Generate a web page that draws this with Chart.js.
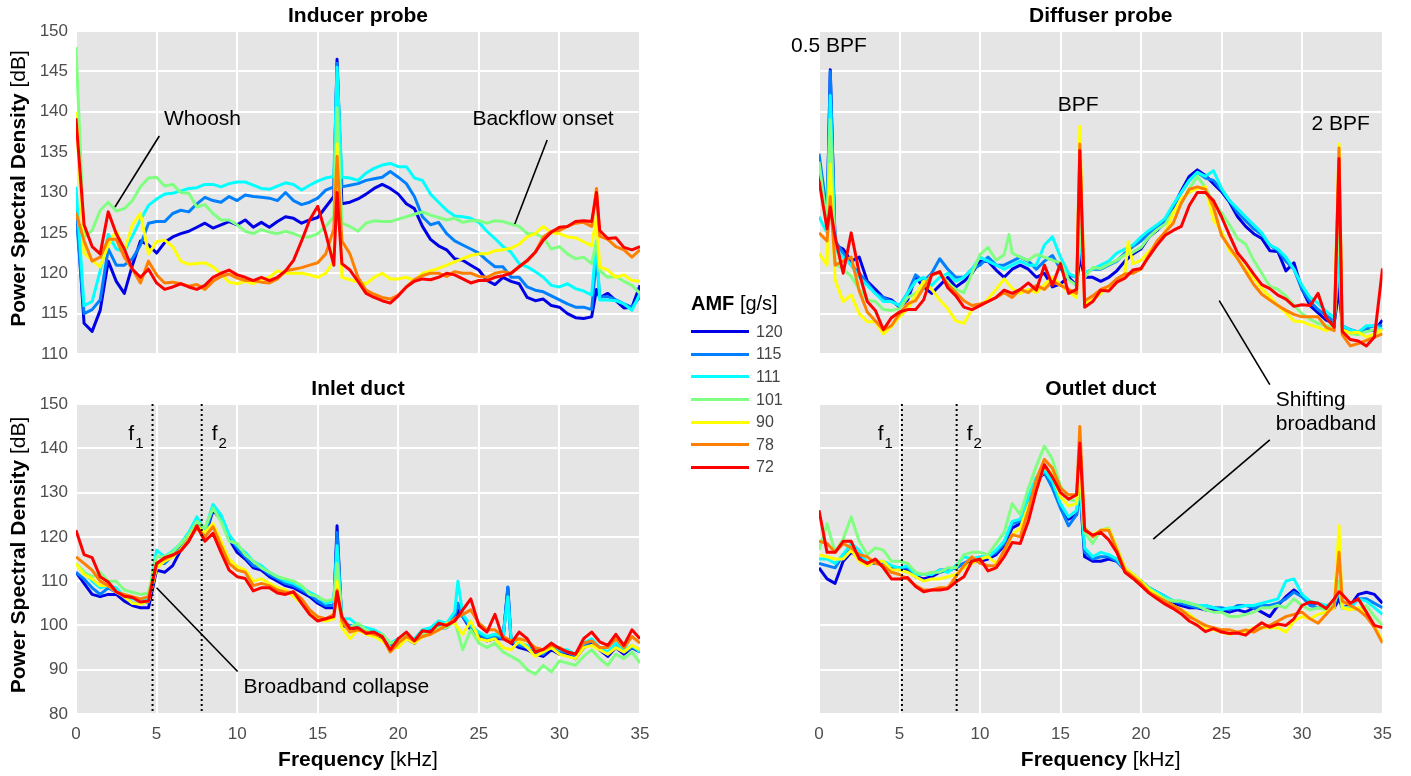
<!DOCTYPE html>
<html>
<head>
<meta charset="utf-8">
<script src="https://cdn.jsdelivr.net/npm/chart.js@4.4.0/dist/chart.umd.min.js"></script>
<style>
  body { margin: 0; background: #fff; width: 1411px; height: 776px; overflow: hidden; position: relative;
         font-family: "Liberation Sans", Arial, Helvetica, sans-serif; }
  canvas { position: absolute; }
  #legend { position: absolute; left: 0; top: 0; }
  .lg-title { position: absolute; left: 691px; top: 290px; font-size: 20px; color: #000; white-space: nowrap; line-height: 26px; }
  .lg-line { position: absolute; left: 691px; width: 58px; height: 3px; }
  .lg-text { position: absolute; left: 756px; font-size: 16px; color: #444; line-height: 20px; }
</style>
</head>
<body>
<canvas id="inducer" width="660" height="375" style="left:0;top:0"></canvas>
<canvas id="diffuser" width="651" height="400" style="left:760px;top:0"></canvas>
<canvas id="inlet" width="660" height="406" style="left:0;top:370px"></canvas>
<canvas id="outlet" width="651" height="406" style="left:760px;top:370px"></canvas>
<div id="legend"></div>
<script>
const FONT = '"Liberation Sans", Arial, Helvetica, sans-serif';

// frequency grid [kHz]
const freq = [
  0, 0.5, 1, 1.5, 2, 2.5, 3, 3.5, 4, 4.5,
  5, 5.5, 6, 6.5, 7, 7.5, 8, 8.5, 9, 9.5,
  10, 10.5, 11, 11.5, 12, 12.5, 13, 13.5, 14, 14.5,
  15, 15.5, 16, 16.5, 17, 17.5, 18, 18.5, 19, 19.5,
  20, 20.5, 21, 21.5, 22, 22.5, 23, 23.5, 24, 24.5,
  25, 25.5, 26, 26.5, 27, 27.5, 28, 28.5, 29, 29.5,
  30, 30.5, 31, 31.5, 32, 32.5, 33, 33.5, 34, 34.5,
  35
];

const amf = ['120', '115', '111', '101', '90', '78', '72'];
const colors = ['#0000e6', '#0080ff', '#00ffff', '#80ff80', '#ffff00', '#ff8000', '#ff0000'];

// ---- Inducer probe ----
const inducer120 = [
  129, 113.8, 112.8, 115.4, 121.5, 119, 117.5, 121, 124, 123.5,
  122.5, 123.8, 124.5, 124.9, 125.2, 125.7, 126.2, 125.6, 126, 126.4,
  126, 126.6, 125.7, 126.3, 125.7, 126.4, 127, 126.8, 126.2, 126.6,
  126.9, 128.2, 129.5, 128.6, 128.8, 129.2, 129.8, 130.5, 131, 130.5,
  129.8, 128.6, 128, 125.8, 124.2, 123.4, 122.9, 121.8, 121.6, 121,
  120.4, 119.1, 118.6, 119.5, 119, 118.7, 117, 116.6, 116.8, 116,
  115.8, 115, 114.5, 114.4, 114.6, 117, 117.5, 116.6, 115.7, 115.8,
  118.5
];
const inducer115 = [
  127.5, 115, 115.5, 116.7, 123, 121, 121, 121.8, 123.5, 126.2,
  126.4, 126.4, 127.4, 127.8, 127.6, 128.6, 129.4, 129, 128.8, 129.5,
  129, 129.7, 129.5, 129.4, 129.3, 129, 130, 129, 128.5, 128.8,
  129.3, 130.3, 130.7, 130.7, 130.9, 131.1, 131.5, 131.7, 131.9, 132.6,
  131.9, 131.1, 129.5, 127, 126, 126.3, 124.9, 124, 123.5, 123,
  122.5, 121.6, 120.8, 120.8, 119.5, 119.5, 118.3, 117.9, 117.7, 117.2,
  116.7, 116.2, 115.8, 115.8, 115.5, 117.1, 117.1, 116.7, 116.2, 115.8,
  117.1
];
const inducer111 = [
  130.7, 116, 116.5, 120.3, 124.8, 123, 122.7, 124.6, 126.6, 128.4,
  129.2, 129.8, 129.9, 130.2, 130.5, 130.6, 131, 131, 130.7, 131.1,
  131.3, 131.3, 130.9, 130.5, 130.4, 130.8, 131.2, 131, 130.3, 130.9,
  131.4, 131.8, 132, 131.9, 131.8, 131.5, 132.4, 133, 133.4, 133.6,
  133.2, 133.2, 131.8, 131.5, 129.8, 128.8, 127.8, 127.1, 127, 126.8,
  126.3, 125.2, 124.3, 123.3, 122.6, 121.2, 120.8, 120.2, 119.5, 118.5,
  118.3, 118.7, 118.1, 117.8, 117.3, 116.7, 116.7, 116.6, 116.2, 115.4,
  117.5
];
const inducer101 = [
  148, 124.5, 125.3, 127.8, 128.8, 127.7, 128, 129, 130.7, 131.8,
  131.9, 130.8, 131, 130, 129.9, 128.2, 128.5, 127.4, 126.6, 126.6,
  126, 125.2, 124.9, 125.4, 125.1, 124.9, 125.2, 124.9, 124.5, 124.5,
  124.9, 125.8, 127, 126.2, 125.8, 125.2, 126.2, 126.5, 126.4, 126.4,
  126.7, 127, 127.3, 127.6, 127.2, 126.9, 126.6, 126.8, 126.3, 126.5,
  126.5, 126.2, 126.5, 126.4, 126.1, 125.8, 124.9, 124.9, 124.4, 123,
  123.3, 122.4, 121.8, 122, 121.2, 120.3, 119.5, 119.6, 119, 118.5,
  117.5
];
const inducer90 = [
  140, 122.5, 121.6, 120.8, 123.5, 125.3, 122.8, 126, 127.4, 122.4,
  123.9, 124.1, 123.3, 121.5, 121.1, 121.2, 121.3, 120.8, 119.9, 118.9,
  118.7, 119, 118.7, 119.2, 119.5, 120.3, 120, 120, 120, 119.8,
  119.5, 120, 121.5, 119.5, 119.2, 118.9, 118.7, 119.5, 120, 119.3,
  119.3, 119.5, 119.1, 120, 120.3, 120.6, 121, 121.4, 121.8, 122.2,
  122.4, 122.4, 122.8, 122.9, 123.1, 123.6, 124.5, 124.9, 125.8, 125,
  124.9, 124.5, 124.4, 123.9, 123.4, 120.8, 120.4, 119.5, 119.8, 119.1,
  119
];
const inducer78 = [
  127.5, 124, 121.5, 122, 124.2, 124.2, 122, 120.5, 118.8, 121.5,
  119.8, 118.8, 118.9, 118.7, 118.4, 118.6, 118, 119, 119.6, 119.9,
  119.4, 119.1, 119.1, 118.9, 118.8, 119.3, 120.3, 120.5, 120.7, 121,
  121.3, 122.4, 125.5, 124, 122.4, 119.5, 117.9, 117.4, 117, 116.8,
  117.3, 118.3, 119.2, 119.7, 120, 120, 119.6, 120.2, 120, 120,
  119.6, 119.5, 120, 120.2, 120, 120.8, 121.5, 122.6, 124.5, 125.2,
  125.3, 125.8, 126.2, 126.3, 125.8, 124.6, 124.2, 123.3, 122.9, 122,
  122.9
];
const inducer72 = [
  139.2, 126, 123.3, 122.4, 127.6, 124.9, 123, 120.5, 119.5, 120.5,
  118.8, 118, 118.3, 118.7, 118.3, 118, 118.5, 119.5, 120, 120.4,
  119.8, 119.5, 119.1, 119.5, 119.1, 119.5, 120.3, 121.6, 124, 126.6,
  128.3, 124.9, 121, 121.2, 120.4, 119, 117.5, 117, 116.6, 116.3,
  117.2, 118.3, 119, 119.3, 119.2, 119.5, 120, 119.8, 119.3, 118.8,
  119.1, 119.1, 119.5, 119.7, 120, 120.8, 121.6, 122.6, 124.1, 125.1,
  125.7, 125.8, 126.4, 126.5, 126.4, 125.3, 124.3, 124.4, 123.2, 122.9,
  123.3
];
const inducerToneFreq = [16.2, 32.3];
const inducerTones = [
  [146.5, 146, 145.5, 140.5, 136, 134.5, 130],
  [118, 122, 124, 124, 127, 130.5, 130]
];

// ---- Diffuser probe ----
const diffuser120 = [
  132.4, 126.5, 123.5, 123, 121.5, 122, 119, 118, 117, 116.7,
  115.8, 116.7, 119.5, 118.3, 117.5, 118.5, 119.5, 118.3, 119, 120,
  121.5, 121.5, 120.4, 119.5, 120.5, 121, 120.5, 119.5, 120, 118.3,
  118.7, 119.5, 118.5, 119.5, 119.5, 119, 119.5, 120.3, 121.5, 122.4,
  123, 124.5, 125.3, 126.3, 128.2, 130.2, 132, 132.8, 132.1, 131.1,
  130.1, 128.8, 127, 125.8, 124.9, 124.3, 122.8, 122.7, 120.3, 121.3,
  118, 116, 115.1, 114.2, 113.8, 113.5, 113, 112.7, 112.9, 112.9,
  114.2
];
const diffuser115 = [
  134.8, 127.5, 124, 122.5, 121, 120, 118.8, 117.5, 117, 116.5,
  116, 117.5, 119.8, 119, 120, 121.8, 120.5, 119.5, 119.5, 120.5,
  121, 122, 121, 121, 121.5, 122, 121.5, 120.5, 121.5, 122.2,
  120.5, 119.8, 119.5, 120, 120.5, 120.5, 121, 121.5, 122.5, 123.3,
  124, 125, 125.7, 126.7, 128.3, 130, 131.5, 132.5, 131.8, 131.5,
  130.3, 129, 127.5, 126.5, 125.5, 124.8, 123.5, 122.8, 121.5, 120.5,
  118, 116.5, 115.5, 114.8, 114, 113.3, 112.8, 112.7, 113.2, 113.5,
  113.5
];
const diffuser111 = [
  127, 125, 123, 122, 121, 119.5, 118.5, 117.5, 116.5, 116.5,
  116, 117.5, 119, 119.5, 118.5, 119.5, 120, 119, 119.5, 120.5,
  122, 121.5, 121, 120.5, 121, 121.5, 121, 121, 123.5, 124.5,
  122, 120, 119.5, 120, 120.5, 121, 121.5, 122.5, 123, 123.5,
  124.5, 125.3, 126, 126.8, 128.5, 130, 131.5, 132.5, 132, 132.7,
  130.5, 129, 128, 127, 126, 125, 123.5, 123, 122, 120.5,
  118.5, 117, 116.3, 115.3, 114.5, 113.5, 113, 112.7, 113.5, 113.5,
  113
];
const diffuser101 = [
  133.8, 126, 121.2, 120.5, 119.6, 118, 116.7, 116.5, 115.5, 115.4,
  115.6, 117, 117.5, 118.5, 119.8, 120.2, 118.8, 118, 117.6, 120,
  122.3, 123.2, 121.6, 122.3, 122.5, 122, 121.6, 122.3, 122, 121.6,
  121.3, 119.2, 118.5, 119.5, 120.7, 120.6, 121.1, 121.6, 122.3, 122.6,
  123.2, 124.5, 125.4, 126.1, 127.6, 128.6, 130.5, 132, 130.6, 128.8,
  127.5, 126, 124.3, 123.6, 121.6, 120, 118.4, 118, 117.2, 116,
  115, 114.3, 113.8, 113.5, 113.4, 113, 112.5, 112.4, 112.8, 113,
  113
];
const diffuser90 = [
  122.5, 121, 119.2, 116.5, 117.3, 115, 114, 114, 112.5, 113.4,
  114.6, 115.6, 117.3, 119, 118, 116.7, 115.6, 114.1, 113.8, 115.5,
  116, 116.8, 118, 119.3, 118.1, 117.5, 118, 117.6, 118.6, 119.5,
  118.6, 117.7, 117, 116.2, 116.7, 117.5, 118.4, 119.1, 120, 121.2,
  121.6, 122.7, 123.7, 125, 127.4, 129.2, 130, 130.5, 130.7, 126.6,
  125.2, 122.8, 121.8, 120.5, 119.4, 118.1, 117.1, 116, 115.1, 114.1,
  114, 113.6, 113.3, 112.9, 113.3, 113, 112.6, 112.7, 112.1, 112.5,
  113
];
const diffuser78 = [
  125, 124, 121, 121.5, 122, 117.8, 115.2, 114.1, 113, 113.5,
  115, 116.2, 116.6, 118.2, 119.8, 120.1, 118.6, 117.6, 116.6, 116,
  116.2, 116.5, 117, 117.6, 117, 118, 117.6, 118.5, 118, 119,
  118.5, 118, 117.5, 116.6, 117.2, 118, 118.4, 119.3, 119.9, 120,
  120.5, 122.3, 124, 125.1, 126.2, 128.7, 130.4, 130.7, 130.4, 128.2,
  124.7, 123.2, 121.8, 120.2, 118.6, 117.4, 116.7, 116, 115.4, 114.9,
  114.6, 114.6, 114.6, 113.3, 112.9, 112.4, 111, 111.3, 111.7, 112.1,
  112.5
];
const diffuser72 = [
  131.5, 125.5, 124.5, 120, 125, 120, 116.5, 115.4, 113, 114.5,
  115.2, 115.5, 115.5, 116.7, 119.8, 120.2, 118.2, 117.2, 115.8, 115.5,
  116, 116.5, 117, 117.9, 117.5, 118, 118.8, 117.9, 121, 118.5,
  121.2, 117.5, 118, 115.8, 116.5, 117.9, 117.8, 118.9, 119.4, 120.4,
  120.6, 122.1, 123.5, 124.7, 125.3, 125.8, 128.4, 130, 130, 129,
  127, 124.7, 122.5, 121.3, 119.9, 118.6, 118.1, 117.3, 116.8, 115.9,
  116.1, 116, 117.5, 114.5, 113.3, 112.8, 111.8, 111.6, 111, 112.1,
  120.6
];
const diffuserToneFreq = [0.7, 11.8, 16.2, 19.2, 32.3];
const diffuserTones = [
  [145.2, 145, 142, 139, 133.5, 129.5, 128.2],
  [null, null, null, 124.8, null, null, null],
  [122, 123, 124, 126, 138.2, 136, 135.2],
  [null, null, null, null, 123.9, null, null],
  [118, 121, 122, 128, 136, 135.5, 134.2]
];

// ---- Inlet duct ----
const inlet120 = [
  112, 109.5, 107, 106.5, 107, 107, 105.5, 104.5, 104, 104,
  112.5, 112, 113.5, 117, 120, 123, 120, 126, 124, 119.5,
  116.5, 115, 113, 112.5, 111, 110, 109, 108.5, 107.5, 106.5,
  105, 104, 104, 100, 99.5, 99, 98.5, 98, 97, 95.5,
  96.5, 97, 96, 98, 98.5, 99.5, 99.5, 101.5, 102, 99,
  97.5, 96.5, 97, 97, 96, 95, 94.5, 93.5, 93, 94.5,
  93.5, 93.5, 92.5, 95, 96, 94.5, 93, 95, 93.5, 95,
  94
];
const inlet115 = [
  112, 110.5, 108.5, 107, 108.5, 107.5, 106.5, 105, 105, 105.3,
  114, 114, 115.8, 118, 120.5, 124, 120.5, 126.5, 124.5, 120,
  117.5, 115.5, 113.5, 113, 111.5, 110.5, 109.5, 109, 108, 107,
  105.5, 104.5, 104.5, 100.5, 100, 99.5, 99, 98.5, 97.5, 95.5,
  97, 97, 96.5, 98.5, 99, 100, 100, 102, 102, 99.5,
  98, 97, 97.5, 97, 96.5, 95.5, 95, 94, 93.5, 95.5,
  94, 94, 93, 95.5, 96.5, 94.5, 93.5, 95.5, 94, 95,
  94.5
];
const inlet111 = [
  114, 112, 110, 108.5, 109, 108.5, 106.5, 106, 105.8, 106,
  117, 115.5, 116.8, 118.5, 121, 124.5, 121.5, 127.3, 125, 120.5,
  118, 116.5, 114.5, 113.5, 112, 111, 110, 109.5, 108.5, 107.5,
  106.5, 105, 105.5, 101.5, 101.5, 100, 99.5, 99, 98, 96,
  97, 97.5, 97, 99, 99.5, 101, 100.5, 103, 102.5, 100,
  98.5, 97.5, 98, 97.5, 97, 96, 95.5, 94.5, 94, 96,
  94.5, 94.5, 93.5, 96, 97, 95, 94, 96, 94.5, 95.5,
  94
];
const inlet101 = [
  114, 112, 111, 112, 110, 110, 108, 107.5, 107, 107.3,
  115.5, 115.5, 116.5, 118.5, 120.5, 123.5, 122, 126.5, 123.5, 119,
  118.5, 116, 114.5, 113, 112, 111, 110.5, 110, 109, 107,
  106.5, 105.5, 106, 101.5, 99.5, 100.5, 99, 98, 98, 96,
  96.5, 98, 96.5, 98, 98.5, 99.5, 99.5, 101, 94.5, 99,
  96, 95, 96, 94, 93, 92, 90, 89, 91, 89.5,
  92, 91.5, 91, 93, 94.5, 92.5, 91, 93.5, 92.5, 94,
  91.5
];
const inlet90 = [
  114, 111.5, 110.5, 109, 109, 107.5, 106.5, 105, 104.8, 105.5,
  113, 114.5, 115.5, 117.2, 119.5, 122.5, 121, 123, 119, 115,
  113.3, 112.5, 110, 110.5, 109.5, 108.5, 108, 106.5, 105, 103,
  101.5, 101, 101.5, 99.5, 97, 99, 98, 97.5, 96.5, 95,
  95, 97, 96, 97.5, 98, 99, 100.5, 100.5, 98, 101,
  97, 96.5, 97, 95, 94.5, 96.5, 95, 93, 94, 95,
  93.5, 93, 92.5, 95, 95.5, 94.5, 93.5, 95, 94, 95.5,
  94.5
];
const inlet78 = [
  115.5, 114, 112.5, 110, 109, 107.5, 107, 106.5, 106, 106.5,
  114, 115, 115.8, 117, 119.3, 122, 120, 122.3, 118, 114,
  112.5, 112, 109, 109.5, 109, 108, 107.5, 107.5, 106, 103.5,
  102, 101.5, 102.5, 101, 98.5, 99, 98.5, 98, 97.5, 94,
  96, 97.5, 96.5, 97.5, 98, 99, 100, 101.5, 102.5, 103.5,
  100.5, 99, 99, 97.5, 96.5, 97, 96.5, 95, 94.5, 95.5,
  95, 94, 93.5, 96, 96.5, 95, 95, 97, 95, 97.5,
  96
];
const inlet72 = [
  121.5, 116, 115.3, 111, 109.8, 107.6, 106.6, 106.3, 105.3, 105.5,
  114, 115.3, 115.9, 116.8, 119, 122.5, 119, 120.8, 116.5, 112.5,
  111, 110.6, 107.8, 108.5, 108.5, 107.3, 107, 107.6, 105, 102.5,
  101, 101.5, 102, 102, 99.3, 99.5, 98.2, 98.5, 97.5, 94.5,
  97, 98.5, 96.5, 98.8, 98.5, 100.5, 100, 101, 103.5, 106,
  100, 98.5, 102.5, 97, 96, 98.5, 97, 94, 94.6, 96,
  94.8, 94, 93.5, 97, 98.5, 96.3, 95.5, 98, 95.5, 99,
  97
];
const inletToneFreq = [16.2, 23.7, 26.8];
const inletTones = [
  [122.5, 121, 118, 114, 110, 108, 107.6],
  [103.5, 105, 110, null, null, null, null],
  [108.5, 108.7, 106.5, null, null, null, null]
];

// ---- Outlet duct ----
const outlet120 = [
  113, 110.5, 109.5, 114.5, 116.5, 115.5, 114, 114, 114, 113,
  113, 112.5, 111, 110.5, 111, 112, 112.5, 113, 114, 114.5,
  114.5, 115, 116, 118, 122, 123, 127.5, 132.5, 134.5, 131.5,
  127, 124, 125, 115.5, 114.5, 114.5, 115, 114.5, 112.5, 111,
  110, 108.5, 107.5, 106.5, 105, 104.5, 104, 104, 103.5, 103.5,
  103.5, 103, 103.5, 103, 104, 103, 102, 104.5, 106.5, 108,
  106.5, 105, 105, 104, 104, 104, 104.5, 107, 107.5, 107,
  105
];
const outlet115 = [
  114, 113.5, 113, 116, 117, 116, 114, 114, 114, 113,
  113, 113, 111.5, 111.5, 111.5, 112.5, 112.5, 113, 114, 115,
  115, 115.5, 116.5, 118.5, 123, 123.5, 128.5, 133, 134.5, 131,
  126.5, 122.5, 125, 116.5, 115, 115.5, 115.5, 114.5, 112.5, 111,
  110, 108.5, 107.5, 106.5, 105.5, 105, 104.5, 104, 104.5, 104,
  104, 103.5, 104.5, 104.5, 104, 104.5, 104.5, 105, 106, 107.5,
  106.5, 104.5, 104, 104, 104.5, 104, 104, 106, 106, 105,
  104
];
const outlet111 = [
  115, 115, 114, 116, 118.5, 117, 114, 114.5, 114.5, 113.5,
  113, 113.5, 111.5, 111.5, 111.5, 112.5, 112, 113.5, 115.5, 115,
  115.5, 115.5, 117, 119, 123.5, 124, 129, 133.5, 135, 132.5,
  127.5, 124.5, 126, 117.5, 115.5, 116.5, 116, 115, 112.5, 111.5,
  110, 108.5, 107.5, 106.5, 105.5, 105.5, 105, 104.5, 104.5, 104,
  103.5, 104, 104, 104.5, 104.5, 105, 105.5, 106, 110, 110.5,
  107, 105.5, 105, 104.5, 105, 104, 104, 106, 105.5, 104,
  102.5
];
const outlet101 = [
  117, 123, 116.5, 119.5, 124.5, 119, 116, 117.5, 117, 114.5,
  114.5, 114, 112, 111.5, 112, 112, 113, 113, 116, 116.5,
  116.5, 116, 118.5, 121, 127.5, 125, 131, 136, 140.5, 137.5,
  131.5, 128.5, 128, 121, 118.5, 121.5, 122, 117.5, 113, 111.5,
  110, 108.5, 107, 106, 105.5, 105.5, 105, 104.5, 103.5, 103,
  103, 102, 102, 102.5, 103, 104, 104, 104.5, 104, 106,
  104.5, 103.5, 104, 103.5, 105, 104, 104, 103.5, 104.5, 102,
  100
];
const outlet90 = [
  116, 115.5, 115, 115, 117, 114.5, 113.5, 114.5, 114.5, 112.5,
  112.5, 112, 111, 110, 110.5, 110.5, 111, 111.5, 113, 114,
  115, 115.5, 114, 116.5, 120.5, 122, 127, 131, 136, 134,
  129, 127, 127.5, 121.5, 120.5, 121.5, 121.8, 117.5, 113, 111.5,
  110, 108, 107, 105.5, 104.5, 103.5, 102.5, 101, 99.5, 99,
  98.5, 98, 98.5, 98.5, 99.5, 99.5, 99.5, 99.5, 98.5, 101,
  102, 101.5, 102.5, 103, 104, 104, 103.5, 104, 102.5, 100,
  96.5
];
const outlet78 = [
  119, 118.5, 116.5, 118.5, 117.5, 116, 115.5, 114, 113.5, 112,
  111.5, 110.5, 109, 108, 108, 108.5, 108.5, 111, 113.5, 115.5,
  114, 113.5, 113.5, 117, 120.5, 120, 126, 133, 137.5, 135.5,
  131, 129.5, 129.5, 122, 120, 121.5, 121.5, 117, 112.5, 111,
  109.5, 107.5, 106.5, 105.5, 104.5, 103.5, 102, 101, 100, 99.5,
  99, 99, 98.5, 99, 98.5, 99.5, 100, 101, 102, 102.5,
  103, 101.5, 100.5, 102.5, 104.5, 105.5, 104.5, 103.5, 102, 99.5,
  96
];
const outlet72 = [
  126, 116.5, 116.5, 119, 119, 115, 114, 115, 113, 110.5,
  110.5, 110.8, 108.8, 107.6, 108, 108, 108.3, 109.8, 111, 114.5,
  115, 112.3, 113, 115.5, 118.7, 118.5, 123.5, 130.5, 136.3, 133.5,
  130, 128.5, 129.5, 121.5, 120.4, 121, 119.3, 116.5, 112, 110.6,
  109, 107.3, 106, 104.8, 103.8, 102.6, 101, 100, 98.6, 99.3,
  98.5, 98.2, 98.3, 97.8, 99.3, 100.6, 99.6, 100.3, 100, 101.5,
  104.5, 105.3, 105, 103.8, 106, 107, 105, 106, 103, 100,
  99.5
];
const outletToneFreq = [16.2, 32.3];
const outletTones = [
  [131, 132, 132, 134, 136, 144.9, 141.2],
  [106, 108, 108, 110, 122.5, 116.5, 107.6]
];

// merge broadband grid with narrow tones for series k
function buildPoints(vals, toneFreq, tones, k) {
  const pts = freq.map((f, i) => ({ x: f, y: vals[i] }));
  toneFreq.forEach((f, j) => {
    const v = tones[j][k];
    if (v !== null) pts.push({ x: f, y: v });
  });
  return pts.sort((a, b) => a.x - b.x);
}

function mixedText(ctx, boldPart, normalPart, cx, cy, size) {
  ctx.font = 'bold ' + size + 'px ' + FONT;
  const wb = ctx.measureText(boldPart).width;
  ctx.font = size + 'px ' + FONT;
  const wn = ctx.measureText(normalPart).width;
  let x0 = cx - (wb + wn) / 2;
  ctx.textAlign = 'left';
  ctx.textBaseline = 'middle';
  ctx.font = 'bold ' + size + 'px ' + FONT;
  ctx.fillText(boldPart, x0, cy);
  ctx.font = size + 'px ' + FONT;
  ctx.fillText(normalPart, x0 + wb, cy);
}

const decor = {
  id: 'decor',
  beforeDraw(chart) {
    const { ctx, chartArea: a } = chart;
    ctx.save();
    ctx.fillStyle = '#e5e5e5';
    ctx.fillRect(a.left, a.top, a.right - a.left, a.bottom - a.top);
    ctx.restore();
  },
  afterDraw(chart, args, o) {
    const { ctx, chartArea: a, scales } = chart;
    const sx = scales.x, sy = scales.y;
    ctx.save();
    ctx.fillStyle = '#000';
    ctx.strokeStyle = '#000';

    // panel title
    ctx.font = 'bold 21px ' + FONT;
    ctx.textAlign = 'center';
    ctx.textBaseline = 'middle';
    ctx.fillText(o.title, (a.left + a.right) / 2, a.top - 15);

    if (o.yTitle) {
      ctx.save();
      ctx.translate(19, (a.top + a.bottom) / 2 - 4);
      ctx.rotate(-Math.PI / 2);
      mixedText(ctx, 'Power Spectral Density', ' [dB]', 0, 0, 21);
      ctx.restore();
    }
    if (o.xTitle) {
      mixedText(ctx, 'Frequency', ' [kHz]', (a.left + a.right) / 2, a.bottom + 46, 21);
    }

    // dotted marker lines f1, f2
    (o.vlines || []).forEach(v => {
      const px = sx.getPixelForValue(v.f);
      ctx.save();
      ctx.lineWidth = 2;
      ctx.setLineDash([2, 3]);
      ctx.beginPath();
      ctx.moveTo(px, a.top);
      ctx.lineTo(px, a.bottom);
      ctx.stroke();
      ctx.restore();
      const by = sy.getPixelForValue(v.v);
      ctx.font = '21px ' + FONT;
      const wf = ctx.measureText('f').width;
      ctx.font = '15px ' + FONT;
      const ws = ctx.measureText(v.sub).width;
      const x0 = v.side < 0 ? px - 10 - wf - ws : px + 10;
      ctx.textAlign = 'left';
      ctx.textBaseline = 'alphabetic';
      ctx.font = '21px ' + FONT;
      ctx.fillText('f', x0, by);
      ctx.font = '15px ' + FONT;
      ctx.fillText(v.sub, x0 + wf + 1, by + 8);
    });

    // leader lines
    ctx.lineWidth = 1.6;
    (o.leaders || []).forEach(l => {
      ctx.beginPath();
      ctx.moveTo(sx.getPixelForValue(l[0]), sy.getPixelForValue(l[1]));
      ctx.lineTo(sx.getPixelForValue(l[2]), sy.getPixelForValue(l[3]));
      ctx.stroke();
    });

    // text notes
    ctx.font = '21px ' + FONT;
    ctx.textBaseline = 'middle';
    (o.notes || []).forEach(n => {
      ctx.textAlign = n.align;
      ctx.fillText(n.text, sx.getPixelForValue(n.f), sy.getPixelForValue(n.v));
    });
    ctx.restore();
  }
};

function makeChart(id, cfg) {
  const datasets = amf.map((a, k) => ({
    label: a,
    data: buildPoints(cfg.series[k], cfg.toneFreq, cfg.tones, k),
    borderColor: colors[k],
    borderWidth: 3,
    borderJoinStyle: 'round',
    pointRadius: 0,
    fill: false,
    tension: 0,
    order: amf.length - k
  }));
  const tickFont = { family: FONT, size: 17 };
  return new Chart(document.getElementById(id), {
    type: 'line',
    data: { datasets },
    options: {
      responsive: false,
      animation: false,
      events: [],
      layout: { padding: { top: cfg.padTop, right: cfg.padRight, left: 0, bottom: 0 } },
      plugins: { legend: { display: false }, tooltip: { enabled: false }, decor: cfg.decor },
      scales: {
        x: {
          type: 'linear', min: 0, max: 35,
          ticks: { stepSize: 5, display: cfg.xTicks, padding: 10, color: '#4d4d4d', font: tickFont, maxRotation: 0 },
          grid: { color: '#ffffff', lineWidth: 2, drawTicks: false },
          border: { display: false },
          afterFit(s) { s.height = cfg.xHeight; s.paddingLeft = 0; s.paddingRight = 0; }
        },
        y: {
          min: cfg.yMin, max: 150,
          ticks: { stepSize: cfg.yStep, display: cfg.yTicks, padding: 8, color: '#4d4d4d', font: tickFont },
          grid: { color: '#ffffff', lineWidth: 2, drawTicks: false },
          border: { display: false },
          afterFit(s) { s.width = cfg.yWidth; s.paddingTop = 0; s.paddingBottom = 0; }
        }
      }
    },
    plugins: [decor]
  });
}

makeChart('inducer', {
  series: [inducer120, inducer115, inducer111, inducer101, inducer90, inducer78, inducer72],
  toneFreq: inducerToneFreq, tones: inducerTones,
  yMin: 110, yStep: 5, xTicks: false, yTicks: true,
  yWidth: 76, xHeight: 21, padTop: 31, padRight: 20,
  decor: {
    title: 'Inducer probe', yTitle: true,
    notes: [
      { text: 'Whoosh', f: 5.46, v: 139.1, align: 'left' },
      { text: 'Backflow onset', f: 24.6, v: 139.1, align: 'left' }
    ],
    leaders: [[5.17, 137.0, 2.42, 128.2], [29.24, 136.5, 27.23, 126.1]]
  }
});

makeChart('diffuser', {
  series: [diffuser120, diffuser115, diffuser111, diffuser101, diffuser90, diffuser78, diffuser72],
  toneFreq: diffuserToneFreq, tones: diffuserTones,
  yMin: 110, yStep: 5, xTicks: false, yTicks: false,
  yWidth: 59, xHeight: 46, padTop: 31, padRight: 28.5,
  decor: {
    title: 'Diffuser probe',
    notes: [
      { text: '0.5 BPF', f: 0.62, v: 148.1, align: 'center' },
      { text: 'BPF', f: 16.1, v: 140.8, align: 'center' },
      { text: '2 BPF', f: 32.4, v: 138.5, align: 'center' }
    ],
    leaders: [[24.86, 116.6, 28.0, 106.2]]
  }
});

makeChart('inlet', {
  series: [inlet120, inlet115, inlet111, inlet101, inlet90, inlet78, inlet72],
  toneFreq: inletToneFreq, tones: inletTones,
  yMin: 80, yStep: 10, xTicks: true, yTicks: true,
  yWidth: 76, xHeight: 62, padTop: 34, padRight: 20,
  decor: {
    title: 'Inlet duct', yTitle: true, xTitle: true,
    vlines: [{ f: 4.75, sub: '1', side: -1, v: 141.9 }, { f: 7.8, sub: '2', side: 1, v: 141.9 }],
    notes: [{ text: 'Broadband collapse', f: 10.4, v: 86.0, align: 'left' }],
    leaders: [[5.0, 108.5, 10.03, 89.6]]
  }
});

makeChart('outlet', {
  series: [outlet120, outlet115, outlet111, outlet101, outlet90, outlet78, outlet72],
  toneFreq: outletToneFreq, tones: outletTones,
  yMin: 80, yStep: 10, xTicks: true, yTicks: false,
  yWidth: 59, xHeight: 62, padTop: 34, padRight: 28.5,
  decor: {
    title: 'Outlet duct', xTitle: true,
    vlines: [{ f: 5.15, sub: '1', side: -1, v: 141.9 }, { f: 8.55, sub: '2', side: 1, v: 141.9 }],
    notes: [
      { text: 'Shifting', f: 28.37, v: 150.9, align: 'left' },
      { text: 'broadband', f: 28.37, v: 145.4, align: 'left' }
    ],
    leaders: [[28.0, 141.9, 20.76, 119.5]]
  }
});

// legend
const legend = document.getElementById('legend');
let html = '<div class="lg-title"><b>AMF</b> [g/s]</div>';
amf.forEach((a, k) => {
  const y = 331.7 + k * 22.6;
  html += '<div class="lg-line" style="top:' + (y - 1.5) + 'px;background:' + colors[k] + '"></div>';
  html += '<div class="lg-text" style="top:' + (y - 10) + 'px">' + a + '</div>';
});
legend.innerHTML = html;
</script>
</body>
</html>
